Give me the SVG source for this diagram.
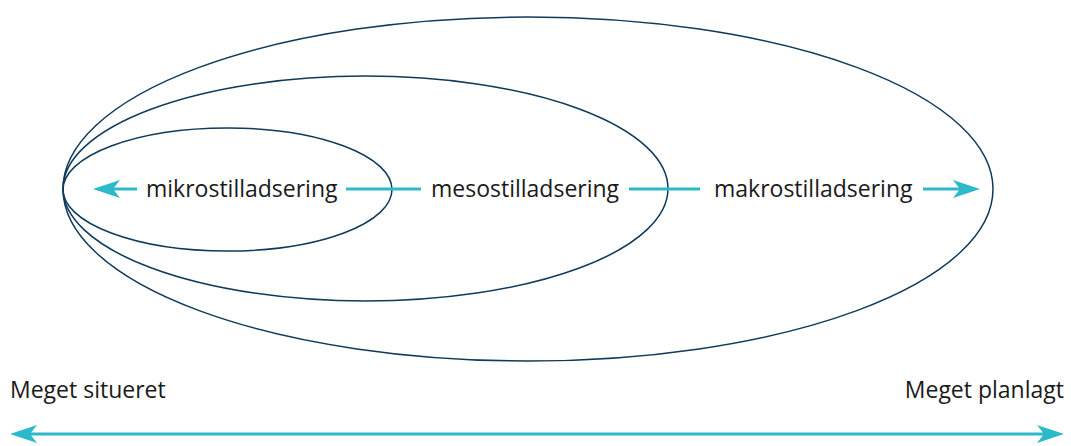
<svg xmlns="http://www.w3.org/2000/svg" width="1071" height="446" viewBox="0 0 1071 446">
<style>
.ell{fill:none;stroke:#0f3a5a;stroke-width:1.5}
.ar{stroke:#2cb9c9;stroke-width:3;fill:none}
.t{font-family:"Open Sans","Liberation Sans",sans-serif;font-size:23px;fill:#1a1a1a}
</style>
<defs>
<path id="head" d="M0,0 L-27,-9 L-20,0 L-27,9 Z" fill="#2cb9c9"/>
</defs>
<rect width="1071" height="446" fill="#ffffff"/>
<g id="makro"><ellipse class="ell" cx="528" cy="189" rx="465" ry="172"/></g>
<g id="meso"><ellipse class="ell" cx="365.5" cy="188.5" rx="302.5" ry="112.5"/></g>
<g id="mikro"><ellipse class="ell" cx="227.5" cy="189.5" rx="164.5" ry="61.5"/></g>
<g id="connectors">
<line class="ar" x1="110" y1="189" x2="137" y2="189"/>
<use href="#head" transform="translate(93,189) rotate(180)"/>
<line class="ar" x1="346" y1="189" x2="421" y2="189"/>
<line class="ar" x1="629" y1="189" x2="700" y2="189"/>
<line class="ar" x1="923" y1="189" x2="965" y2="189"/>
<use href="#head" transform="translate(980,189)"/>
<line class="ar" x1="25" y1="434" x2="1048" y2="434"/>
<use href="#head" transform="translate(10,434) rotate(180)"/>
<use href="#head" transform="translate(1064,434)"/>
</g>
<g id="labels">
<text class="t" x="146" y="197">mikrostilladsering</text>
<text class="t" x="431" y="197">mesostilladsering</text>
<text class="t" x="714" y="197">makrostilladsering</text>
<text class="t" x="10" y="398">Meget situeret</text>
<text class="t" x="1064" y="398" text-anchor="end">Meget planlagt</text>
</g>
</svg>
